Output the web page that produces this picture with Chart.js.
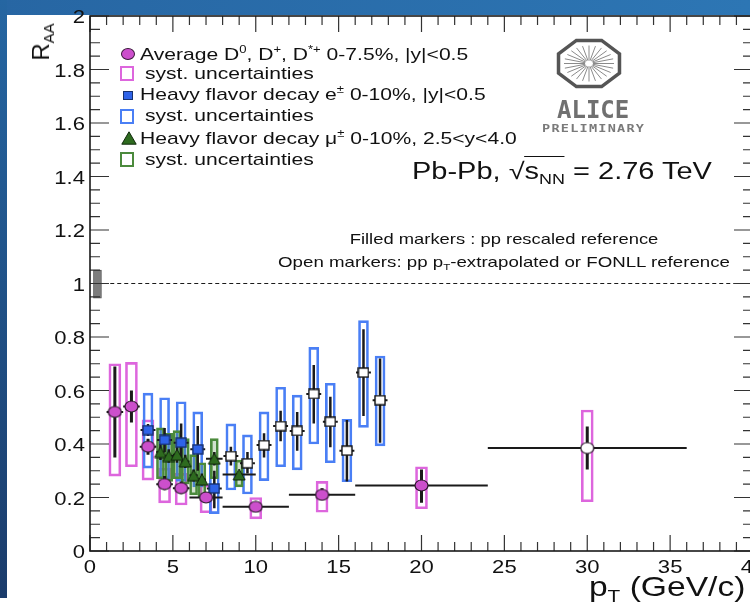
<!DOCTYPE html>
<html>
<head>
<meta charset="utf-8">
<script src="https://cdn.jsdelivr.net/npm/chart.js@4.4.1/dist/chart.umd.min.js"></script>
<style>
  html, body { margin: 0; padding: 0; background: #fff; overflow: hidden; width: 750px; height: 606px; }
  #topband { position: absolute; left: 0; top: 0; width: 750px; height: 15px; background: linear-gradient(90deg, #2766a3, #2d76b4); }
  #leftband { position: absolute; left: 0; top: 0; width: 7px; height: 598px; background: linear-gradient(180deg, #2566a2, #1b3c6b); }
  #chart { position: absolute; left: 0; top: 0; }
  .txt { position: absolute; white-space: nowrap; font-family: "Liberation Sans", Arial, sans-serif; color: #111; line-height: 1; transform-origin: left center; transform: scaleX(1.24); }
  .sup { font-size: 0.62em; position: relative; top: -0.62em; }
  .sub { font-size: 0.62em; position: relative; top: 0.32em; }
  .mk { position: absolute; box-sizing: border-box; }
</style>
</head>
<body>
<div id="topband"></div>
<div id="leftband"></div>
<canvas id="chart" width="760" height="606"></canvas>

<!-- legend -->
<div class="mk" style="left:121px;top:48px;width:14px;height:12px;border-radius:50%;background:#cc4fcc;border:1px solid #3a1a3a;"></div>
<div class="txt" style="left:140px;top:46px;font-size:17px;">Average D<span class="sup">0</span>, D<span class="sup">+</span>, D<span class="sup">*+</span> 0-7.5%, |y|&lt;0.5</div>
<div class="mk" style="left:120px;top:66px;width:14px;height:15px;border:2px solid #dd66dd;"></div>
<div class="txt" style="left:145px;top:65px;font-size:17px;">syst. uncertainties</div>
<div class="mk" style="left:123px;top:91px;width:10px;height:9px;background:#2f63e8;border:1px solid #16306e;"></div>
<div class="txt" style="left:140px;top:86px;font-size:17px;">Heavy flavor decay e<span class="sup">±</span> 0-10%, |y|&lt;0.5</div>
<div class="mk" style="left:120px;top:109px;width:14px;height:15px;border:2px solid #4a7ff5;"></div>
<div class="txt" style="left:145px;top:107px;font-size:17px;">syst. uncertainties</div>
<svg class="mk" style="left:121px;top:131px;" width="16" height="14"><polygon points="8,0.8 15.2,13.2 0.8,13.2" fill="#2e6b1f" stroke="#102a0c" stroke-width="1"/></svg>
<div class="txt" style="left:140px;top:130px;font-size:17px;">Heavy flavor decay μ<span class="sup">±</span> 0-10%, 2.5&lt;y&lt;4.0</div>
<div class="mk" style="left:120px;top:152px;width:14px;height:15px;border:2px solid #4b8a3c;"></div>
<div class="txt" style="left:145px;top:151px;font-size:17px;">syst. uncertainties</div>

<!-- annotations -->
<div class="txt" style="left:412px;top:160px;font-size:23px;transform:scaleX(1.26);">Pb-Pb, √<span style="border-top:1.5px solid #111;padding-top:1px;">s<span class="sub">NN</span></span> = 2.76 TeV</div>
<div class="txt" style="left:504px;top:232px;font-size:14.6px;transform-origin:center;transform:translateX(-50%) scaleX(1.26);">Filled markers : pp rescaled reference</div>
<div class="txt" style="left:504px;top:255px;font-size:14.6px;transform-origin:center;transform:translateX(-50%) scaleX(1.28);">Open markers: pp p<span class="sub">T</span>-extrapolated or FONLL reference</div>
<div class="txt" style="left:557px;top:98px;font-size:24px;font-family:'DejaVu Sans Mono',monospace;font-weight:bold;color:#707070;transform:none;">ALICE</div>
<div class="txt" style="left:542px;top:123px;font-size:11px;font-family:'DejaVu Sans Mono',monospace;font-weight:bold;color:#7a7a7a;letter-spacing:1px;transform:scaleX(1.23);">PRELIMINARY</div>

<!-- axis titles -->
<div class="txt" style="right:5px;top:573px;font-size:28px;transform-origin:right center;transform:scaleX(1.2);">p<span class="sub">T</span> (GeV/c)</div>
<div class="txt" style="left:41px;top:42px;font-size:24px;transform-origin:center;transform:translate(-50%,-50%) rotate(-90deg);">R<span class="sub">AA</span></div>

<script>
// ---- data ----
// D mesons (average D0, D+, D*+), 0-7.5%
const dPt      = [1.5, 2.5, 3.5, 4.5, 5.5, 7, 10, 14, 20, 30];
const dBinLo   = [1, 2, 3, 4, 5, 6, 8, 12, 16, 24];
const dBinHi   = [2, 3, 4, 5, 6, 8, 12, 16, 24, 36];
const dRaa     = [0.52, 0.54, 0.39, 0.25, 0.235, 0.20, 0.165, 0.21, 0.245, 0.385];
const dStatLo  = [0.35, 0.48, 0.36, 0.23, 0.215, 0.185, 0.15, 0.19, 0.18, 0.305];
const dStatHi  = [0.69, 0.60, 0.42, 0.28, 0.26, 0.22, 0.18, 0.235, 0.305, 0.465];
const dSystLo  = [0.28, 0.315, 0.265, 0.18, 0.172, 0.143, 0.12, 0.145, 0.158, 0.184];
const dSystHi  = [0.70, 0.705, 0.49, 0.31, 0.29, 0.247, 0.20, 0.26, 0.315, 0.527];

// heavy flavour decay electrons, 0-10%
const ePt      = [3.5, 4.5, 5.5, 6.5, 7.5, 8.5, 9.5, 10.5, 11.5, 12.5, 13.5, 14.5, 15.5, 16.5, 17.5];
const eRaa     = [0.452, 0.415, 0.405, 0.38, 0.234, 0.355, 0.328, 0.396, 0.467, 0.449, 0.587, 0.483, 0.375, 0.667, 0.564];
const eStatLo  = [0.43, 0.37, 0.34, 0.30, 0.16, 0.32, 0.29, 0.35, 0.41, 0.375, 0.477, 0.388, 0.26, 0.505, 0.405];
const eStatHi  = [0.475, 0.46, 0.477, 0.467, 0.30, 0.39, 0.37, 0.44, 0.524, 0.52, 0.695, 0.577, 0.49, 0.829, 0.72];
const eSystLo  = [0.31, 0.27, 0.26, 0.24, 0.14, 0.228, 0.213, 0.263, 0.315, 0.303, 0.40, 0.33, 0.259, 0.462, 0.393];
const eSystHi  = [0.59, 0.573, 0.558, 0.52, 0.33, 0.475, 0.434, 0.52, 0.612, 0.583, 0.761, 0.627, 0.492, 0.861, 0.729];

// heavy flavour decay muons, 0-10%, 2.5<y<4
const mPt      = [4.25, 4.75, 5.25, 5.75, 6.25, 6.75, 7.5, 9];
const mBinLo   = [4, 4.5, 5, 5.5, 6, 6.5, 7, 8];
const mBinHi   = [4.5, 5, 5.5, 6, 6.5, 7, 8, 10];
const mRaa     = [0.37, 0.355, 0.36, 0.335, 0.283, 0.267, 0.345, 0.286];
const mStatLo  = [0.34, 0.33, 0.33, 0.31, 0.26, 0.245, 0.32, 0.27];
const mStatHi  = [0.40, 0.38, 0.39, 0.36, 0.305, 0.29, 0.37, 0.30];
const mSystLo  = [0.27, 0.26, 0.27, 0.25, 0.21, 0.20, 0.27, 0.24];
const mSystHi  = [0.46, 0.44, 0.45, 0.42, 0.36, 0.33, 0.42, 0.34];

// normalisation uncertainty at R_AA = 1
const normPt = [0.45];
const normLo = [0.945];
const normHi = [1.05];

// axes
const xTicks = [0, 5, 10, 15, 20, 25, 30, 35, 40];
const xTickLabels = ['0', '5', '10', '15', '20', '25', '30', '35', '40'];
const yTicks = [0, 0.2, 0.4, 0.6, 0.8, 1, 1.2, 1.4, 1.6, 1.8, 2];
const yTickLabels = ['0', '0.2', '0.4', '0.6', '0.8', '1', '1.2', '1.4', '1.6', '1.8', '2'];

// ---- helpers ----
const vbars = (xs, lo, hi) => xs.flatMap((x, i) => [{ x, y: lo[i] }, { x, y: hi[i] }, { x, y: null }]);
const hbars = (lo, hi, ys) => ys.flatMap((y, i) => [{ x: lo[i], y }, { x: hi[i], y }, { x: lo[i], y: null }]);
const boxes = (xs, lo, hi) => xs.map((x, i) => ({ x, y: [lo[i], hi[i]] }));
const points = (xs, ys) => xs.map((x, i) => ({ x, y: ys[i] }));

function sprite(w, h, draw) {
    const c = document.createElement('canvas');
    c.width = w; c.height = h;
    draw(c.getContext('2d'), w, h);
    return c;
}
const ellipse = (fill) => sprite(15, 13, (g, w, h) => {
    g.beginPath(); g.ellipse(w / 2, h / 2, w / 2 - 1, h / 2 - 1, 0, 0, 2 * Math.PI);
    g.fillStyle = fill; g.fill(); g.lineWidth = 1.2; g.strokeStyle = '#2a1a2a'; g.stroke();
});
const square = (fill, edge) => sprite(12, 11, (g, w, h) => {
    g.fillStyle = fill; g.fillRect(1, 1, w - 2, h - 2);
    g.lineWidth = 1.4; g.strokeStyle = edge; g.strokeRect(1, 1, w - 2, h - 2);
});
const dFilled = ellipse('#cc4fcc');
const dOpen = ellipse('#ffffff');
const eFilled = square('#2f63e8', '#16306e');
const eOpen = square('#ffffff', '#111111');
const mTri = sprite(14, 13, (g) => {
    g.beginPath(); g.moveTo(7, 1); g.lineTo(13, 12); g.lineTo(1, 12); g.closePath();
    g.fillStyle = '#2e6b1f'; g.fill(); g.lineWidth = 1; g.strokeStyle = '#0e240a'; g.stroke();
});

function drawOctagon(ctx, cx, cy, rx, ry) {
    ctx.beginPath();
    for (let k = 0; k < 8; k++) {
        const a = (22.5 + 45 * k) * Math.PI / 180;
        const px = cx + rx * Math.cos(a), py = cy + ry * Math.sin(a);
        k === 0 ? ctx.moveTo(px, py) : ctx.lineTo(px, py);
    }
    ctx.closePath();
    ctx.stroke();
}

// axis frame, ROOT style inner ticks, tick labels and the ALICE logo
const rootAxes = {
    id: 'rootAxes',
    afterDatasetsDraw(chart) {
        const { ctx, chartArea: a, scales: { x, y } } = chart;
        ctx.save();
        ctx.strokeStyle = '#333';
        ctx.lineWidth = 1.2;
        ctx.beginPath();
        for (let v = 0; v <= 40; v += 1) {
            const px = x.getPixelForValue(v);
            const len = v % 5 === 0 ? 16 : 9;
            ctx.moveTo(px, a.bottom); ctx.lineTo(px, a.bottom - len);
            ctx.moveTo(px, a.top); ctx.lineTo(px, a.top + len);
        }
        for (let i = 0; i <= 40; i++) {
            const py = y.getPixelForValue(i * 0.05);
            const len = i % 4 === 0 ? 19 : 10;
            ctx.moveTo(a.left, py); ctx.lineTo(a.left + len, py);
            ctx.moveTo(a.right, py); ctx.lineTo(a.right - len, py);
        }
        ctx.stroke();
        ctx.strokeStyle = '#1a1a1a';
        ctx.lineWidth = 1.6;
        ctx.strokeRect(a.left, a.top, a.right - a.left, a.bottom - a.top);

        ctx.fillStyle = '#111';
        ctx.font = '17.5px "Liberation Sans", Arial, sans-serif';
        const label = (text, px, py, align) => {
            ctx.save(); ctx.translate(px, py); ctx.scale(1.26, 1);
            ctx.textAlign = align; ctx.fillText(text, 0, 0); ctx.restore();
        };
        xTicks.forEach((v, i) => label(xTickLabels[i], x.getPixelForValue(v), 573, 'center'));
        yTicks.forEach((v, i) => label(yTickLabels[i], 85, y.getPixelForValue(v) + 7, 'right'));

        // ALICE logo
        ctx.strokeStyle = '#555';
        ctx.lineWidth = 3.5;
        drawOctagon(ctx, 589, 63.5, 33, 25);
        ctx.strokeStyle = '#8a8a8a';
        ctx.lineWidth = 1;
        ctx.beginPath();
        for (let k = 0; k < 24; k++) {
            const t = k * Math.PI / 12;
            ctx.moveTo(589 + 4 * Math.cos(t), 63.5 + 3 * Math.sin(t));
            ctx.lineTo(589 + 25 * Math.cos(t), 63.5 + 18 * Math.sin(t));
        }
        ctx.stroke();
        ctx.restore();
    }
};

const bar = (data, color, fill, thickness, order) => ({
    type: 'bar', data, grouped: false, barThickness: thickness,
    borderColor: color, backgroundColor: fill, borderWidth: 2, borderSkipped: false, order
});
const line = (data, width, order, dash) => ({
    type: 'line', data, borderColor: '#1a1a1a', borderWidth: width, borderCapStyle: 'butt',
    borderDash: dash || [], pointRadius: 0, spanGaps: false, tension: 0, order
});
const marks = (data, style, order) => ({
    type: 'scatter', data, pointStyle: style, pointRadius: 6, order
});

new Chart(document.getElementById('chart'), {
    type: 'scatter',
    data: {
        datasets: [
            bar(boxes(dPt, dSystLo, dSystHi), '#dd66dd', 'rgba(0,0,0,0)', 12, 12),
            bar(boxes(ePt, eSystLo, eSystHi), '#4a7ff5', 'rgba(0,0,0,0)', 10, 11),
            bar(boxes(mPt, mSystLo, mSystHi), '#4b8a3c', 'rgba(75,138,60,0.25)', 8, 10),
            { ...bar(boxes(normPt, normLo, normHi), '#555', '#7d7d7d', 8, 9), borderWidth: 1 },
            line([{ x: 0.8, y: 1 }, { x: 40, y: 1 }], 1, 8, [4, 3]),
            line(hbars(dBinLo, dBinHi, dRaa), 2, 6),
            line(hbars(mBinLo, mBinHi, mRaa), 2, 6),
            line(hbars(ePt.map(p => p - 0.45), ePt.map(p => p + 0.45), eRaa), 2, 6),
            line(vbars(dPt, dStatLo, dStatHi), 3, 5),
            line(vbars(ePt, eStatLo, eStatHi), 2.5, 5),
            line(vbars(mPt, mStatLo, mStatHi), 2.5, 5),
            marks(points(mPt, mRaa), mTri, 3),
            marks(points(ePt, eRaa), c => (ePt[c.dataIndex] > 8 ? eOpen : eFilled), 2),
            marks(points(dPt, dRaa), c => (dPt[c.dataIndex] > 24 ? dOpen : dFilled), 1)
        ]
    },
    options: {
        responsive: false,
        animation: false,
        events: [],
        layout: { padding: { left: 90, top: 16, right: 4, bottom: 55 } },
        plugins: { legend: { display: false }, tooltip: { enabled: false } },
        scales: {
            x: { type: 'linear', min: 0, max: 40, display: false, offset: false },
            y: { type: 'linear', min: 0, max: 2, display: false }
        }
    },
    plugins: [rootAxes]
});
</script>
</body>
</html>
